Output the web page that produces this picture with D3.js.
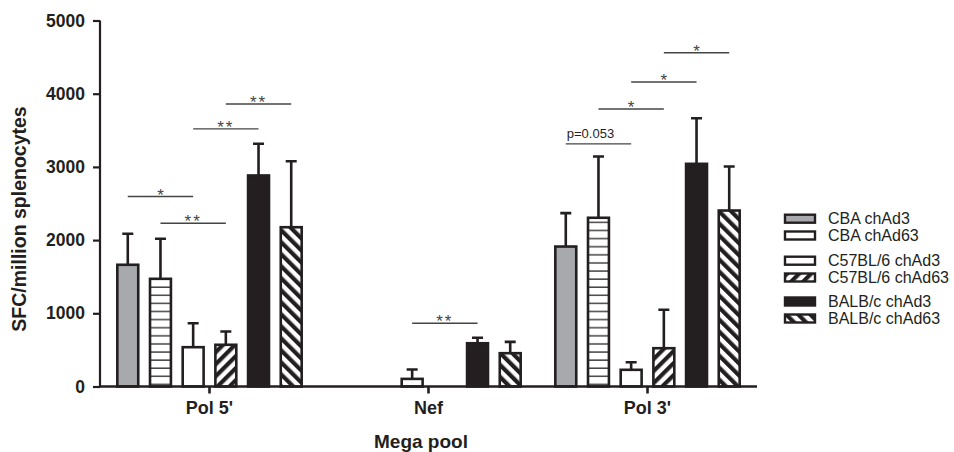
<!DOCTYPE html>
<html>
<head>
<meta charset="utf-8">
<script src="https://cdn.jsdelivr.net/npm/d3@7"></script>
<style>
  body { margin: 0; background: #fff; }
  svg { display: block; font-family: "Liberation Sans", Arial, sans-serif; }
</style>
</head>
<body>
<svg id="chart" width="954" height="452"></svg>
<script>
// data (SFC / million splenocytes)
const categories = ["Pol 5'", 'Nef', "Pol 3'"]
const series = ['CBA chAd3', 'CBA chAd63', 'C57BL/6 chAd3', 'C57BL/6 chAd63', 'BALB/c chAd3', 'BALB/c chAd63']
// null = no bar drawn
const means = [
  [1663, null, 1912],
  [1471, null, 2305],
  [537, 104, 228],
  [570, null, 523],
  [2883, 591, 3042],
  [2176, 455, 2404]
]
const sems = [
  [423, null, 456],
  [547, null, 837],
  [328, 129, 104],
  [181, null, 525],
  [433, 74, 623],
  [902, 155, 601]
]
const yTicks = [0, 1000, 2000, 3000, 4000, 5000]

// significance brackets: category, from series, to series, label, height (SFC)
const sigs = [
  { cat: "Pol 5'", from: 0, to: 2, label: '*', level: 2595 },
  { cat: "Pol 5'", from: 1, to: 3, label: '**', level: 2230 },
  { cat: "Pol 5'", from: 2, to: 4, label: '**', level: 3520 },
  { cat: "Pol 5'", from: 3, to: 5, label: '**', level: 3860 },
  { cat: 'Nef', from: 2, to: 4, label: '**', level: 865 },
  { cat: "Pol 3'", from: 0, to: 2, label: 'p=0.053', level: 3315 },
  { cat: "Pol 3'", from: 1, to: 3, label: '*', level: 3790 },
  { cat: "Pol 3'", from: 2, to: 4, label: '*', level: 4160 },
  { cat: "Pol 3'", from: 3, to: 5, label: '*', level: 4560 }
]

const ink = '#231f20'
const svg = d3.select('#chart')

// fill patterns
const defs = svg.append('defs')
const hLines = defs.append('pattern')
  .attr('id', 'hlines').attr('patternUnits', 'userSpaceOnUse')
  .attr('width', 8).attr('height', 8.1)
hLines.append('rect').attr('width', 8).attr('height', 8.1).attr('fill', '#fff')
hLines.append('rect').attr('y', 3).attr('width', 8).attr('height', 1.5).attr('fill', '#444')

const fwd = defs.append('pattern')
  .attr('id', 'fwd').attr('patternUnits', 'userSpaceOnUse')
  .attr('width', 8.5).attr('height', 8.5)
  .attr('patternTransform', 'rotate(45)')
fwd.append('rect').attr('width', 8.5).attr('height', 8.5).attr('fill', '#fff')
fwd.append('rect').attr('width', 4.2).attr('height', 8.5).attr('fill', ink)

const back = defs.append('pattern')
  .attr('id', 'back').attr('patternUnits', 'userSpaceOnUse')
  .attr('width', 8.5).attr('height', 8.5)
  .attr('patternTransform', 'rotate(-45)')
back.append('rect').attr('width', 8.5).attr('height', 8.5).attr('fill', '#fff')
back.append('rect').attr('width', 4.2).attr('height', 8.5).attr('fill', ink)

const fills = ['#a7a9ac', 'url(#hlines)', '#fff', 'url(#fwd)', ink, 'url(#back)']
const legendFills = ['#a7a9ac', '#fff', '#fff', 'url(#fwd)', ink, 'url(#back)']

// scales
const x0 = d3.scaleBand().domain(categories).range([100, 757])
const x1 = d3.scaleBand().domain(d3.range(series.length))
  .range([0, x0.bandwidth()]).paddingInner(0.36).paddingOuter(0.53)
const y = d3.scaleLinear().domain([0, 5000]).range([386.5, 20.5])

const cx = (cat, s) => x0(cat) + x1(s) + x1.bandwidth() / 2

// bars
const rows = []
series.forEach((s, si) => {
  categories.forEach((c, ci) => {
    if (means[si][ci] != null) rows.push({ si, c, v: means[si][ci], e: sems[si][ci] })
  })
})

const g = svg.append('g')

// error bars (upper only)
g.selectAll('.err').data(rows).enter().append('path')
  .attr('class', 'err')
  .attr('d', d => {
    const xc = cx(d.c, d.si)
    const yt = y(d.v + d.e)
    return `M${xc},${y(d.v)}V${yt}M${xc - 5.5},${yt}H${xc + 5.5}`
  })
  .attr('stroke', ink).attr('stroke-width', 2.6).attr('fill', 'none')

g.selectAll('.bar').data(rows).enter().append('rect')
  .attr('class', 'bar')
  .attr('x', d => x0(d.c) + x1(d.si))
  .attr('y', d => y(d.v))
  .attr('width', x1.bandwidth())
  .attr('height', d => y(0) - y(d.v))
  .attr('fill', d => fills[d.si])
  .attr('stroke', ink).attr('stroke-width', 2.6)

// axes
const yAxis = d3.axisLeft(y).tickValues(yTicks).tickSize(7).tickPadding(8).tickFormat(d3.format('d'))
const ya = svg.append('g').attr('transform', 'translate(100,0)').call(yAxis)
ya.select('.domain').attr('d', `M0,${y(5000)}V${y(0)}`)
ya.selectAll('path, line').attr('stroke', ink).attr('stroke-width', 2.2)
ya.selectAll('text').attr('font-size', 17.5).attr('font-weight', 'bold').attr('fill', ink)

const xAxis = d3.axisBottom(x0).tickSize(7).tickPadding(8)
const xa = svg.append('g').attr('transform', `translate(0,${y(0)})`).call(xAxis)
xa.select('.domain').attr('d', 'M100,0H757')
xa.selectAll('path, line').attr('stroke', ink).attr('stroke-width', 2.6)
xa.selectAll('text').attr('font-size', 18).attr('font-weight', 'bold').attr('fill', ink)

// axis titles
svg.append('text')
  .attr('transform', 'translate(26,219) rotate(-90)')
  .attr('text-anchor', 'middle')
  .attr('font-size', 19.5).attr('font-weight', 'bold').attr('fill', ink)
  .text('SFC/million splenocytes')

svg.append('text')
  .attr('x', 421).attr('y', 448)
  .attr('text-anchor', 'middle')
  .attr('font-size', 19).attr('font-weight', 'bold').attr('fill', ink)
  .text('Mega pool')

// significance brackets
const sg = svg.append('g')
sigs.forEach(s => {
  const xa0 = cx(s.cat, s.from)
  const xb0 = cx(s.cat, s.to)
  const yl = y(s.level)
  sg.append('line')
    .attr('x1', xa0).attr('x2', xb0).attr('y1', yl).attr('y2', yl)
    .attr('stroke', '#444').attr('stroke-width', 1.4)
  if (s.label.startsWith('p')) {
    sg.append('text')
      .attr('x', xa0 + 1).attr('y', yl - 6)
      .attr('font-size', 13).attr('fill', ink)
      .text(s.label)
  } else {
    sg.append('text')
      .attr('x', (xa0 + xb0) / 2).attr('y', yl + 4)
      .attr('text-anchor', 'middle')
      .attr('font-size', 17).attr('letter-spacing', s.label.length > 1 ? 2 : 0)
      .attr('fill', '#444')
      .text(s.label)
  }
})

// legend
const legendY = [218.7, 235.5, 260.7, 277.5, 301.5, 318.5]
const lg = svg.append('g')
series.forEach((s, i) => {
  lg.append('rect')
    .attr('x', 785).attr('y', legendY[i] - 4).attr('width', 30).attr('height', 8)
    .attr('fill', legendFills[i]).attr('stroke', ink).attr('stroke-width', 2.4)
  lg.append('text')
    .attr('x', 828).attr('y', legendY[i]).attr('dy', '0.36em')
    .attr('font-size', 16).attr('fill', ink)
    .text(s)
})
</script>
</body>
</html>
